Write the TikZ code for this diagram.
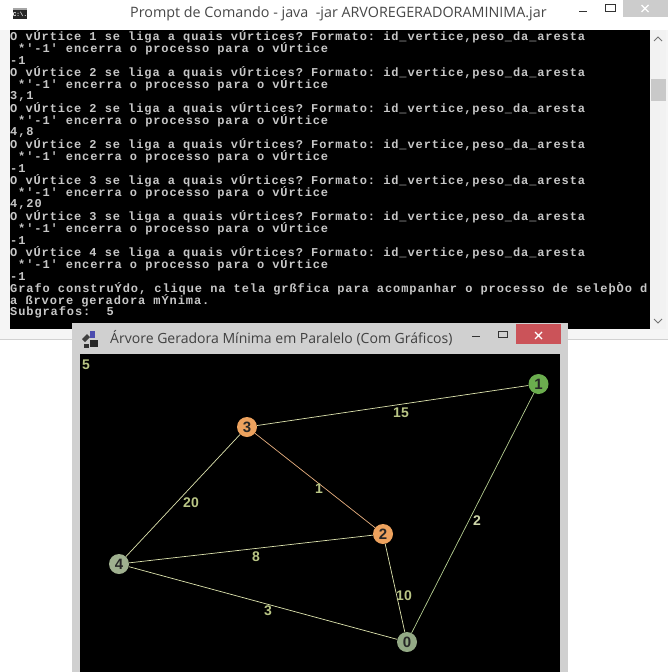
\documentclass[tikz,border=0pt]{standalone}
\usepackage{fontspec}
\newfontfamily\confont{Liberation Mono}[LetterSpace=7.6]
\newfontfamily\iconfont{Liberation Mono}
\newfontfamily\uifont{Open Sans}
\newfontfamily\nodefont{Liberation Sans}
\tikzset{
  x=1pt,y=-1pt,
  conline/.style={anchor=west,inner sep=0pt,yshift=-0.7pt,text=black!22,font=\confont\bfseries\fontsize{12}{12}\selectfont},
  wintitle/.style={anchor=west,inner sep=0pt,text=black!75,font=\uifont\fontsize{14.1}{16}\selectfont},
  vert/.style={circle,minimum size=20pt,inner sep=0pt,text=black!85,font=\nodefont\bfseries\fontsize{15}{15}\selectfont},
  orange vert/.style={vert,fill=vOrange},
  edge/.style={line width=0.7pt},
  weight/.style={inner sep=0pt,font=\nodefont\bfseries\fontsize{14}{14}\selectfont,text=wKhaki},
  winbtn/.style={line width=1pt,draw=black!80},
}
\definecolor{vOrange}{HTML}{EDA25E}
\definecolor{vGreen}{HTML}{6BAD4E}
\definecolor{vSage}{HTML}{9FB08F}
\definecolor{vMoss}{HTML}{93A985}
\definecolor{wKhaki}{HTML}{B9C585}
\definecolor{ePale}{HTML}{DDE3AE}
\definecolor{eOrange}{HTML}{E8B080}
\definecolor{eGreen}{HTML}{B6CF92}
\definecolor{frameGray}{HTML}{D0D0D0}
\definecolor{closeRed}{HTML}{CB5359}
\begin{document}
\begin{tikzpicture}
\useasboundingbox (0,0) rectangle (668,672);
\fill[white] (0,0) rectangle (668,672);
% console window
\fill[black!4] (0,0) rectangle (668,339);
\draw[black!18,line width=0.8pt] (0,339) -- (668,339);
\fill[white] (0,0) rectangle (668,30);
\fill[black] (10,30) rectangle (650,329);
\fill[black!5] (650,30) rectangle (666,329);
\fill[black!21] (651,79) rectangle (666,101);
\draw[black!55,line width=1pt] (654,41) -- (658,37) -- (662,41);
\draw[black!55,line width=1pt] (654,319) -- (658,323) -- (662,319);
% console icon
\fill[black!85] (13,8) rectangle (27,19);
\fill[black!35] (13,8) rectangle (27,10);
\node[inner sep=0pt,text=white,font=\iconfont\bfseries\fontsize{6}{6}\selectfont] (conicon) at (20,14.5) {C:\textbackslash.};
\node[wintitle,text=black!72,font=\uifont\fontsize{14.32}{16}\selectfont] (contitle) at (130,14) {Prompt de Comando - java\ \ -jar ARVOREGERADORAMINIMA.jar};
\draw[winbtn] (579,11.5) -- (587,11.5);
\draw[winbtn] (605.5,4.5) rectangle (615,11.5);
\fill[black!20] (623,0) rectangle (668,17);
\draw[white,line width=1.3pt] (641.5,5) -- (648.5,12) (641.5,12) -- (648.5,5);
% console text
\frenchspacing
\node[conline] (l01) at (10,36) {O vÚrtice 1 se liga a quais vÚrtices? Formato: id\_vertice,peso\_da\_aresta};
\node[conline] (l02) at (18,48) {*'-1' encerra o processo para o vÚrtice};
\node[conline] (l03) at (10,60) {-1};
\node[conline] (l04) at (10,72) {O vÚrtice 2 se liga a quais vÚrtices? Formato: id\_vertice,peso\_da\_aresta};
\node[conline] (l05) at (18,84) {*'-1' encerra o processo para o vÚrtice};
\node[conline] (l06) at (10,96) {3,1};
\node[conline] (l07) at (10,108) {O vÚrtice 2 se liga a quais vÚrtices? Formato: id\_vertice,peso\_da\_aresta};
\node[conline] (l08) at (18,120) {*'-1' encerra o processo para o vÚrtice};
\node[conline] (l09) at (10,132) {4,8};
\node[conline] (l10) at (10,144) {O vÚrtice 2 se liga a quais vÚrtices? Formato: id\_vertice,peso\_da\_aresta};
\node[conline] (l11) at (18,156) {*'-1' encerra o processo para o vÚrtice};
\node[conline] (l12) at (10,168) {-1};
\node[conline] (l13) at (10,180) {O vÚrtice 3 se liga a quais vÚrtices? Formato: id\_vertice,peso\_da\_aresta};
\node[conline] (l14) at (18,192) {*'-1' encerra o processo para o vÚrtice};
\node[conline] (l15) at (10,204) {4,20};
\node[conline] (l16) at (10,216) {O vÚrtice 3 se liga a quais vÚrtices? Formato: id\_vertice,peso\_da\_aresta};
\node[conline] (l17) at (18,228) {*'-1' encerra o processo para o vÚrtice};
\node[conline] (l18) at (10,240) {-1};
\node[conline] (l19) at (10,252) {O vÚrtice 4 se liga a quais vÚrtices? Formato: id\_vertice,peso\_da\_aresta};
\node[conline] (l20) at (18,264) {*'-1' encerra o processo para o vÚrtice};
\node[conline] (l21) at (10,276) {-1};
\node[conline] (l22) at (10,288) {Grafo construÝdo, clique na tela grßfica para acompanhar o processo de seleþÒo d};
\node[conline] (l23) at (10,300) {a ßrvore geradora mÝnima.};
\node[conline] (l24) at (10,312) {Subgrafos:\ \ 5};
% graph window
\fill[frameGray] (72,323) rectangle (568,672);
\fill[black] (80,354) rectangle (560,672);
\fill[closeRed] (516,324) rectangle (561,344);
\draw[white,line width=1.3pt] (535,332) -- (542,339) (535,339) -- (542,332);
\draw[winbtn] (472,336.5) -- (480,336.5);
\draw[winbtn] (498.5,331.5) rectangle (507.5,337.5);
% java icon
\fill[black!75] (82,339) -- (87,334) -- (90,337) -- (85,342) -- cycle;
\fill[black!85] (90,340) rectangle (98,347);
\fill[black!80] (84,344) rectangle (89,348);
\fill[blue!55!black!70] (90,331) rectangle (95,338);
\node[wintitle,font=\uifont\fontsize{14.03}{16}\selectfont] (gtitle) at (110,338.5) {Árvore Geradora Mínima em Paralelo (Com Gráficos)};
% vertices
\node[vert,fill=vMoss] (v0) at (407,642) {0};
\node[vert,fill=vGreen] (v1) at (538.5,384) {1};
\node[orange vert] (v2) at (383,534) {2};
\node[orange vert] (v3) at (247,427) {3};
\node[vert,fill=vSage] (v4) at (119,564) {4};
% edges
\draw[edge,ePale] (v3) -- (v1);
\draw[edge,eOrange] (v3) -- (v2);
\draw[edge,ePale] (v3) -- (v4);
\draw[edge,ePale] (v4) -- (v2);
\draw[edge,ePale] (v4) -- (v0);
\draw[edge,ePale] (v2) -- (v0);
\draw[edge,eGreen] (v0) -- (v1);
% weights
\node[weight] (w15) at (401,413) {15};
\node[weight] (w1) at (319,489) {1};
\node[weight] (w20) at (191,503) {20};
\node[weight] (w8) at (256,557) {8};
\node[weight,text=wKhaki!70!white] (w2) at (477,521) {2};
\node[weight] (w10) at (404,596) {10};
\node[weight] (w3) at (268,611) {3};
\node[weight] (count) at (86,365) {5};
\end{tikzpicture}
\end{document}
